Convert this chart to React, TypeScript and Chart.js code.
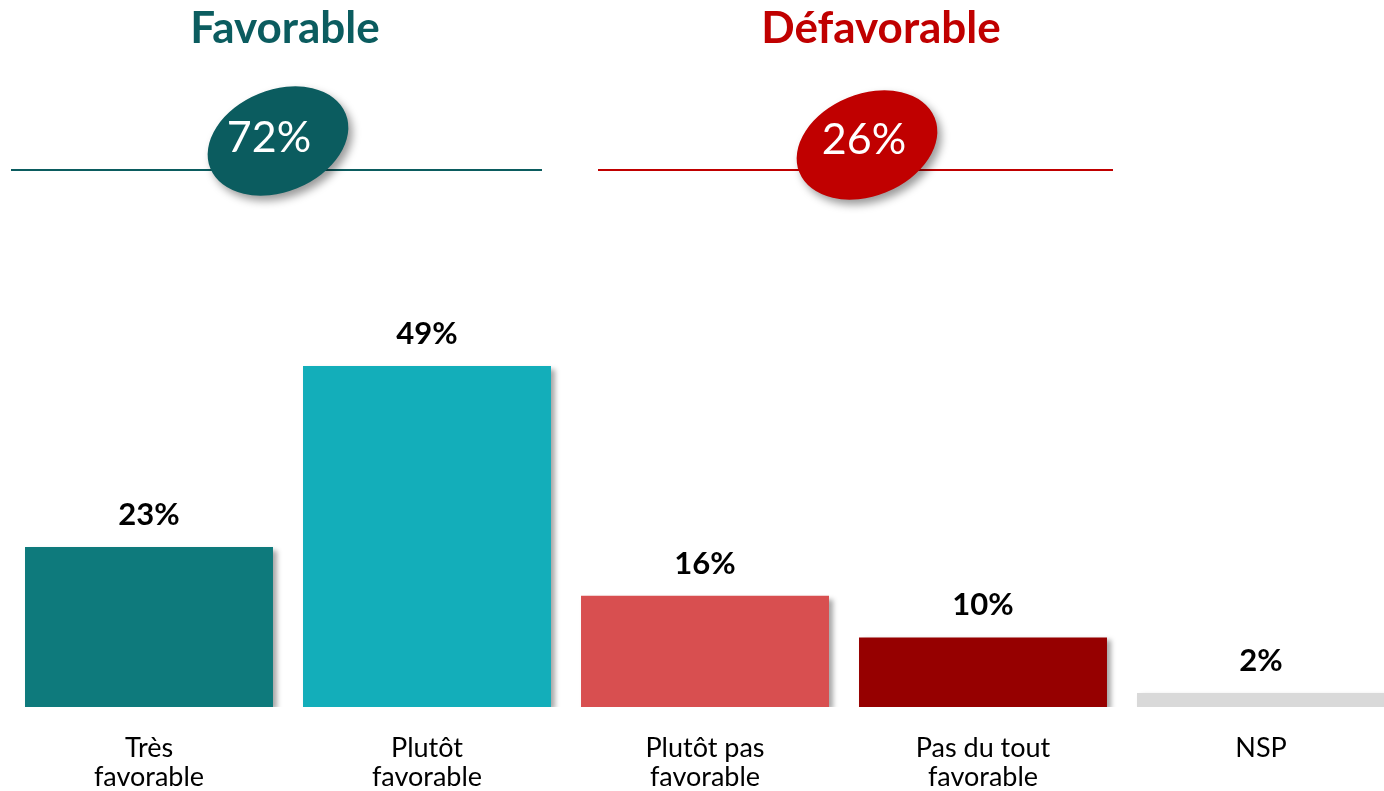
import React, { useEffect, useRef } from "react";
import { Chart, registerables } from "chart.js";

Chart.register(...registerables);

const categories: string[][] = [
  ["Très", "favorable"],
  ["Plutôt", "favorable"],
  ["Plutôt pas", "favorable"],
  ["Pas du tout", "favorable"],
  ["NSP"],
];
const values: number[] = [23, 49, 16, 10, 2];
const valueLabels: string[] = ["23%", "49%", "16%", "10%", "2%"];
const barColors: string[] = ["#0E7A7C", "#13AEBA", "#D84F50", "#960000", "#D9D9D9"];
const groupTitles: string[] = ["Favorable", "Défavorable"];
const groupTotals: string[] = ["72%", "26%"];
const groupColors: string[] = ["#0B5C5F", "#C00000"];

const FONT = "Lato, 'Open Sans', sans-serif";

const headerPlugin = {
  id: "headerPlugin",
  afterDraw(chart: any) {
    const ctx = chart.ctx as CanvasRenderingContext2D;
    const groups = [
      { title: groupTitles[0], total: groupTotals[0], color: groupColors[0], tx: 285, lx1: 11, lx2: 542, ex: 278, ey: 141, txx: 269, tyy: 138 },
      { title: groupTitles[1], total: groupTotals[1], color: groupColors[1], tx: 881, lx1: 598, lx2: 1113, ex: 867, ey: 145, txx: 864, tyy: 140 },
    ];
    groups.forEach((g) => {
      ctx.save();
      ctx.fillStyle = g.color;
      ctx.font = `bold 44px ${FONT}`;
      ctx.textAlign = "center";
      ctx.textBaseline = "middle";
      ctx.fillText(g.title, g.tx, 29);
      ctx.strokeStyle = g.color;
      ctx.lineWidth = 2;
      ctx.beginPath();
      ctx.moveTo(g.lx1, 170);
      ctx.lineTo(g.lx2, 170);
      ctx.stroke();
      ctx.shadowColor = "rgba(0,0,0,0.4)";
      ctx.shadowBlur = 8;
      ctx.shadowOffsetX = 4;
      ctx.shadowOffsetY = 5;
      ctx.beginPath();
      ctx.ellipse(g.ex, g.ey, 73, 51, (-22 * Math.PI) / 180, 0, Math.PI * 2);
      ctx.fill();
      ctx.shadowColor = "transparent";
      ctx.fillStyle = "#FFFFFF";
      ctx.font = `43px ${FONT}`;
      ctx.fillText(g.total, g.txx, g.tyy);
      ctx.restore();
    });

    const meta = chart.getDatasetMeta(0);
    const xScale = chart.scales.x;
    ctx.save();
    ctx.textAlign = "center";
    ctx.textBaseline = "middle";
    meta.data.forEach((bar: any, i: number) => {
      ctx.fillStyle = "#000000";
      ctx.font = `bold 31px ${FONT}`;
      ctx.fillText(valueLabels[i], bar.x, bar.y - 32);
      ctx.font = `27px ${FONT}`;
      const cx = xScale.getPixelForValue(i);
      categories[i].forEach((line, j) => {
        ctx.fillText(line, cx, 748 + j * 29);
      });
    });
    ctx.restore();
  },
};

const shadowPlugin = {
  id: "shadowPlugin",
  beforeDatasetsDraw(chart: any) {
    const ctx = chart.ctx;
    ctx.save();
    ctx.shadowColor = "rgba(0,0,0,0.35)";
    ctx.shadowBlur = 5;
    ctx.shadowOffsetX = 4;
    ctx.shadowOffsetY = 3;
  },
  afterDatasetsDraw(chart: any) {
    chart.ctx.restore();
  },
};

export default function App() {
  const ref = useRef<HTMLCanvasElement | null>(null);
  useEffect(() => {
    document.body.style.margin = "0";
    document.body.style.overflow = "hidden";
    if (!ref.current) return;
    const chart = new Chart(ref.current, {
      type: "bar",
      data: {
        labels: categories.map((c) => c.join(" ")),
        datasets: [
          {
            data: values,
            backgroundColor: barColors,
            borderWidth: 0,
            barPercentage: 0.892,
            categoryPercentage: 1,
          },
        ],
      },
      options: {
        animation: false,
        responsive: true,
        maintainAspectRatio: false,
        layout: { padding: { left: 10, right: 0, top: 11, bottom: 84 } },
        plugins: { legend: { display: false }, tooltip: { enabled: false }, title: { display: false } },
        scales: {
          x: { display: false },
          y: { display: false, min: 0, max: 100 },
        },
      },
      plugins: [shadowPlugin, headerPlugin],
    });
    return () => chart.destroy();
  }, []);
  return (
    <div style={{ position: "fixed", left: 0, top: 0, width: 1384, height: 791, overflow: "hidden", background: "#fff" }}>
      <div style={{ position: "relative", width: 1400, height: 791 }}>
        <canvas ref={ref} />
      </div>
    </div>
  );
}
